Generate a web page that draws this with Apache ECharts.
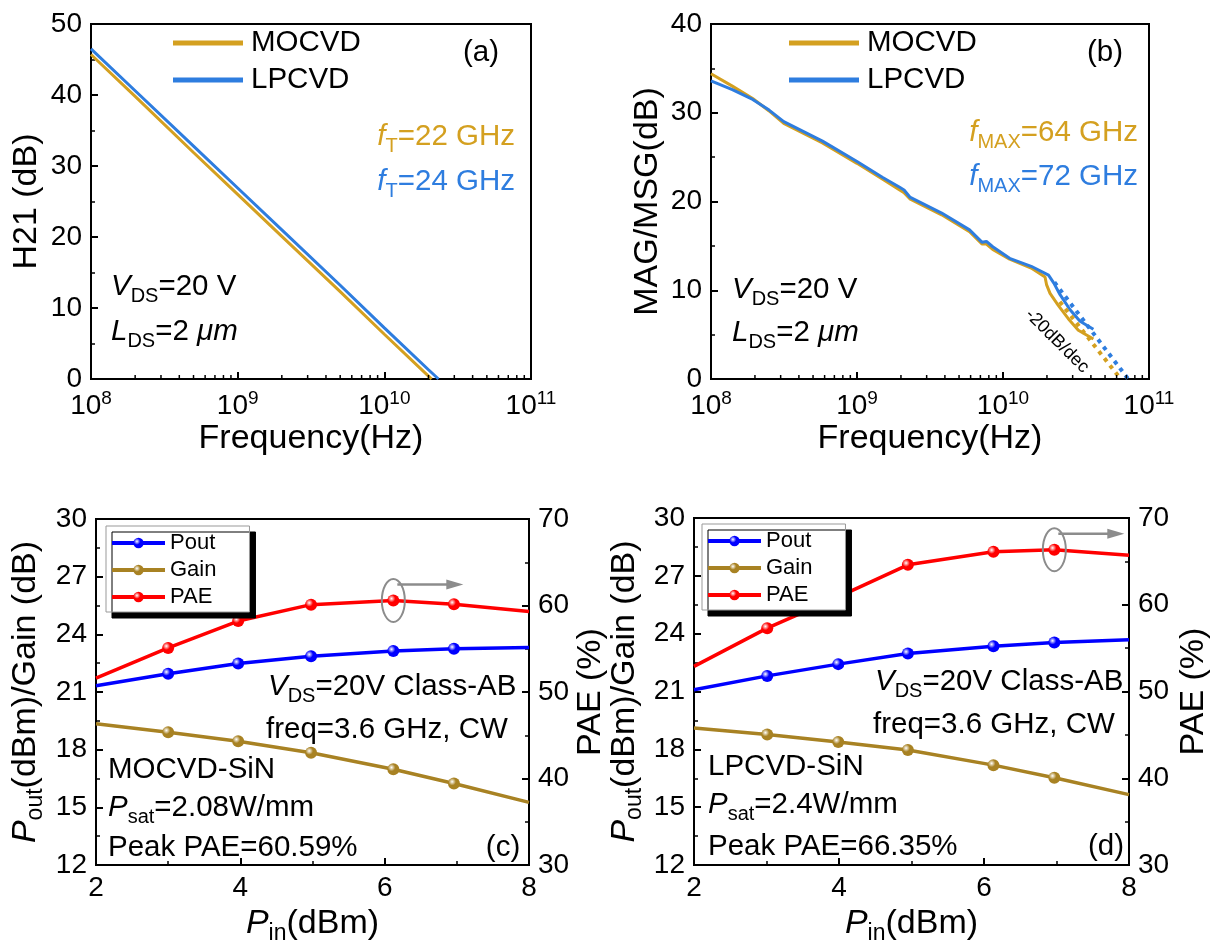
<!DOCTYPE html>
<html>
<head>
<meta charset="utf-8">
<script src="https://cdn.jsdelivr.net/npm/echarts@6/dist/echarts.min.js"></script>
<style>
  html, body { margin: 0; padding: 0; background: #fff; }
  #chart { width: 1215px; height: 946px; }
</style>
</head>
<body>
<div id="chart"></div>
<script>
// (a) H21 vs frequency
const freqH21Mocvd = [1e8, 2e8, 5e8, 1e9, 2e9, 5e9, 1e10, 2e10, 2.1e10];
const h21Mocvd = [45.7, 39.8, 31.9, 26.0, 20.1, 12.3, 6.3, 0.4, 0];
const freqH21Lpcvd = [1e8, 2e8, 5e8, 1e9, 2e9, 5e9, 1e10, 2e10, 2.34e10];
const h21Lpcvd = [46.5, 40.6, 32.8, 26.9, 21.0, 13.2, 7.2, 1.3, 0];

// (b) MAG/MSG vs frequency
const freqMagMocvd = [1e8, 1.4e8, 1.93e8, 2.5e8, 3.15e8, 5.8e8, 1e9, 1.5e9, 1.96e9, 2.1e9, 2.3e9, 3.8e9, 5.9e9, 7.2e9, 7.7e9, 8.5e9, 1.11e10, 1.56e10, 1.94e10, 1.99e10, 2.1e10, 2.39e10, 2.8e10, 3.28e10, 4.16e10];
const magMocvd = [34.4, 33.0, 31.6, 30.2, 28.8, 26.6, 24.3, 22.5, 21.3, 21.0, 20.3, 18.5, 16.6, 15.2, 15.2, 14.6, 13.5, 12.5, 11.5, 10.6, 9.65, 8.3, 6.8, 5.5, 4.5];
const freqMagLpcvd = [1e8, 1.4e8, 1.93e8, 2.5e8, 3.15e8, 5.8e8, 1e9, 1.5e9, 1.96e9, 2.1e9, 2.3e9, 3.8e9, 5.9e9, 7.2e9, 7.7e9, 8.5e9, 1.11e10, 1.56e10, 2.05e10, 2.23e10, 2.46e10, 2.88e10, 3.37e10, 4.16e10];
const magLpcvd = [33.6, 32.6, 31.5, 30.3, 29.0, 26.8, 24.5, 22.7, 21.6, 21.3, 20.5, 18.7, 16.8, 15.4, 15.5, 14.9, 13.6, 12.7, 11.7, 10.8, 9.5, 7.8, 6.5, 5.6];
// -20 dB/dec extrapolations
const fitFreqMocvd = [2.45e10, 6.4e10];
const fitMocvd = [8.7, 0];
const fitFreqLpcvd = [2.25e10, 7.2e10];
const fitLpcvd = [10.9, 0];

// (c) MOCVD-SiN power sweep
const pinC = [2, 3, 3.97, 4.98, 6.12, 6.96, 8];
const poutC = [21.33, 21.95, 22.48, 22.86, 23.13, 23.25, 23.32];
const gainC = [19.35, 18.91, 18.44, 17.84, 16.98, 16.24, 15.26];
const paeC = [51.6, 55.1, 58.2, 60.1, 60.59, 60.15, 59.3];

// (d) LPCVD-SiN power sweep
const pinD = [2, 3.01, 3.99, 4.95, 6.13, 6.97, 8];
const poutD = [21.09, 21.81, 22.42, 22.97, 23.35, 23.54, 23.69];
const gainD = [19.11, 18.77, 18.38, 17.97, 17.18, 16.53, 15.65];
const paeD = [52.9, 57.3, 60.9, 64.6, 66.1, 66.35, 65.7];

const FF = 'Liberation Sans';
const ORANGE = '#D4A020';
const BLUE = '#2E7DDF';
const POUT = '#0000FF';
const GAIN = '#A88223';
const PAE = '#FF0000';
const GREY = '#8C8C8C';
const TS = 29.5; // annotation text size

const chart = echarts.init(document.getElementById('chart'));

function zip (xs, ys) {
  return xs.map((x, i) => [x, ys[i]]);
}
// markers only on inner points, the ends sit on the frame
function pts (xs, ys) {
  return xs.map((x, i) => ({
    value: [x, ys[i]],
    symbol: (i === 0 || i === xs.length - 1) ? 'none' : 'circle'
  }));
}
function sphere (c) {
  return new echarts.graphic.RadialGradient(0.35, 0.35, 0.7, [
    { offset: 0, color: '#ffffff' },
    { offset: 0.45, color: c },
    { offset: 1, color: c }
  ]);
}

const axisLine = { show: true, onZero: false, lineStyle: { color: '#000', width: 2 } };
const axisTick = { show: true, inside: true, length: 7, lineStyle: { color: '#000', width: 2 } };
const minorTick = { show: true, splitNumber: 2, length: 4, lineStyle: { color: '#000', width: 1.5 } };
const label = { color: '#000', fontSize: 28, fontFamily: FF };
const nameStyle = { color: '#000', fontSize: 34, fontFamily: FF };

function logAxis (gridIndex) {
  return {
    type: 'log', gridIndex, min: 1e8, max: 1e11, logBase: 10,
    axisLine, axisTick, splitLine: { show: false },
    axisLabel: {
      margin: 10,
      formatter: v => '{b|10}{s|' + Math.round(Math.log10(v)) + '}',
      rich: {
        b: { fontSize: 28, fontFamily: FF, color: '#000' },
        s: { fontSize: 19, fontFamily: FF, color: '#000', padding: [0, 0, 16, 0] }
      }
    },
    name: 'Frequency(Hz)', nameLocation: 'middle', nameGap: 41, nameTextStyle: nameStyle
  };
}

function valAxis (o) {
  return Object.assign({
    type: 'value', axisLine, axisTick, minorTick, splitLine: { show: false },
    axisLabel: Object.assign({ margin: 9 }, label),
    nameLocation: 'middle', nameTextStyle: nameStyle
  }, o);
}

const subName = {
  n: { fontSize: 34, fontFamily: FF, color: '#000' },
  i: { fontSize: 34, fontFamily: FF, color: '#000', fontStyle: 'italic' },
  s: { fontSize: 23, fontFamily: FF, color: '#000', padding: [19, 0, 0, 0] }
};

function freqLine (name, xs, ys, color, xi, yi) {
  return {
    name, type: 'line', xAxisIndex: xi, yAxisIndex: yi, data: zip(xs, ys),
    showSymbol: false, color, lineStyle: { color, width: 3 }
  };
}
function fitLine (name, xs, ys, color) {
  return {
    name, type: 'line', xAxisIndex: 1, yAxisIndex: 1, data: zip(xs, ys),
    showSymbol: false, color, lineStyle: { color, width: 4, type: [4, 5] }
  };
}
function pwrLine (name, xs, ys, color, xi, yi) {
  return {
    name, type: 'line', xAxisIndex: xi, yAxisIndex: yi, data: pts(xs, ys),
    symbol: 'circle', symbolSize: 12, color,
    itemStyle: { color: sphere(color) },
    lineStyle: { color, width: 3.5 }
  };
}

const freqLegend = left => ({
  left, top: 28, orient: 'vertical', data: ['MOCVD', 'LPCVD'],
  icon: 'rect', itemWidth: 70, itemHeight: 5, itemGap: 7, padding: 0,
  selectedMode: false,
  textStyle: { fontSize: TS, lineHeight: 30, color: '#000', fontFamily: FF, padding: [0, 0, 0, 3] }
});
const pwrLegend = (left, top) => ({
  left, top, orient: 'vertical', data: ['Pout', 'Gain', 'PAE'],
  itemWidth: 53, itemHeight: 13, itemGap: 3, padding: [5, 33, 3, 4],
  selectedMode: false,
  lineStyle: { width: 4 },
  backgroundColor: '#fff', borderColor: '#999', borderWidth: 1,
  shadowColor: '#000', shadowOffsetX: 6, shadowOffsetY: 6, shadowBlur: 0,
  textStyle: { fontSize: 22, lineHeight: 24, color: '#000', fontFamily: FF }
});

const gridStyle = { show: true, borderColor: '#000', borderWidth: 2, backgroundColor: 'transparent' };
const pinName = '{i|P}{s|in}{n|(dBm)}';
const poutName = '{i|P}{s|out}{n|(dBm)/Gain (dB)}';

chart.setOption({
  animation: false,
  textStyle: { fontFamily: FF },
  grid: [
    Object.assign({ left: 91, top: 24, width: 440, height: 355 }, gridStyle),
    Object.assign({ left: 711, top: 24, width: 438, height: 355 }, gridStyle),
    Object.assign({ left: 96, top: 519, width: 433, height: 349 }, gridStyle),
    Object.assign({ left: 694, top: 518, width: 435, height: 350 }, gridStyle)
  ],
  legend: [freqLegend(173), freqLegend(789), pwrLegend(106, 526), pwrLegend(702, 524)],
  xAxis: [
    logAxis(0),
    logAxis(1),
    valAxis({ gridIndex: 2, min: 2, max: 8, interval: 2, name: pinName, nameGap: 38,
      nameTextStyle: Object.assign({ rich: subName }, nameStyle) }),
    valAxis({ gridIndex: 3, min: 2, max: 8, interval: 2, name: pinName, nameGap: 38,
      nameTextStyle: Object.assign({ rich: subName }, nameStyle) })
  ],
  yAxis: [
    valAxis({ gridIndex: 0, min: 0, max: 50, interval: 10, name: 'H21 (dB)', nameGap: 47 }),
    valAxis({ gridIndex: 1, min: 0, max: 40, interval: 10, name: 'MAG/MSG(dB)', nameGap: 46 }),
    valAxis({ gridIndex: 2, min: 12, max: 30, interval: 3, name: poutName, nameGap: 49,
      nameTextStyle: Object.assign({ rich: subName }, nameStyle) }),
    valAxis({ gridIndex: 2, position: 'right', min: 30, max: 70, interval: 10, name: 'PAE (%)', nameGap: 45 }),
    valAxis({ gridIndex: 3, min: 12, max: 30, interval: 3, name: poutName, nameGap: 48,
      nameTextStyle: Object.assign({ rich: subName }, nameStyle) }),
    valAxis({ gridIndex: 3, position: 'right', min: 30, max: 70, interval: 10, name: 'PAE (%)', nameGap: 48 })
  ],
  series: [
    freqLine('MOCVD', freqH21Mocvd, h21Mocvd, ORANGE, 0, 0),
    freqLine('LPCVD', freqH21Lpcvd, h21Lpcvd, BLUE, 0, 0),
    freqLine('MOCVD', freqMagMocvd, magMocvd, ORANGE, 1, 1),
    freqLine('LPCVD', freqMagLpcvd, magLpcvd, BLUE, 1, 1),
    fitLine('MOCVD fit', fitFreqMocvd, fitMocvd, ORANGE),
    fitLine('LPCVD fit', fitFreqLpcvd, fitLpcvd, BLUE),
    pwrLine('Pout', pinC, poutC, POUT, 2, 2),
    pwrLine('Gain', pinC, gainC, GAIN, 2, 2),
    pwrLine('PAE', pinC, paeC, PAE, 2, 3),
    pwrLine('Pout', pinD, poutD, POUT, 3, 4),
    pwrLine('Gain', pinD, gainD, GAIN, 3, 4),
    pwrLine('PAE', pinD, paeD, PAE, 3, 5)
  ]
});

// ---- annotations ----
function rich (size, color) {
  return {
    n: { fontSize: size, fontFamily: FF, fill: color, color },
    i: { fontSize: size, fontFamily: FF, fontStyle: 'italic', fill: color, color },
    s: { fontSize: Math.round(size * 0.68), fontFamily: FF, fill: color, color, padding: [18, 0, 0, 0] }
  };
}
function txt (x, y, text, align, color, size) {
  size = size || TS;
  color = color || '#000';
  return {
    type: 'text', x, y, z: 100,
    style: {
      text, textAlign: align || 'left', textVerticalAlign: 'middle',
      fontSize: size, fontFamily: FF, fill: color, rich: rich(size, color)
    }
  };
}

const g = [
  txt(481, 53, '{n|(a)}', 'center'),
  txt(515, 137, '{i|f}{s|T}{n|=22 GHz}', 'right', ORANGE),
  txt(515, 182, '{i|f}{s|T}{n|=24 GHz}', 'right', BLUE),
  txt(111, 287, '{i|V}{s|DS}{n|=20 V}', 'left'),
  txt(111, 332, '{i|L}{s|DS}{n|=2 }{i|μm}', 'left'),

  txt(1105, 53, '{n|(b)}', 'center'),
  txt(1138, 133, '{i|f}{s|MAX}{n|=64 GHz}', 'right', ORANGE),
  txt(1138, 177, '{i|f}{s|MAX}{n|=72 GHz}', 'right', BLUE),
  txt(732, 290, '{i|V}{s|DS}{n|=20 V}', 'left'),
  txt(732, 333, '{i|L}{s|DS}{n|=2 }{i|μm}', 'left'),
  {
    type: 'text', x: 1057, y: 341, rotation: -Math.PI / 4, z: 100,
    style: { text: '-20dB/dec', fontSize: 18, fontFamily: FF, fill: '#000', textAlign: 'center', textVerticalAlign: 'middle' }
  },

  txt(268, 687, '{i|V}{s|DS}{n|=20V Class-AB}', 'left'),
  txt(266, 730, '{n|freq=3.6 GHz, CW}', 'left'),
  txt(108, 770, '{n|MOCVD-SiN}', 'left'),
  txt(108, 808, '{i|P}{s|sat}{n|=2.08W/mm}', 'left'),
  txt(108, 848, '{n|Peak PAE=60.59%}', 'left'),
  txt(503, 848, '{n|(c)}', 'center'),

  txt(875, 682, '{i|V}{s|DS}{n|=20V Class-AB}', 'left'),
  txt(873, 725, '{n|freq=3.6 GHz, CW}', 'left'),
  txt(708, 767, '{n|LPCVD-SiN}', 'left'),
  txt(708, 805, '{i|P}{s|sat}{n|=2.4W/mm}', 'left'),
  txt(708, 847, '{n|Peak PAE=66.35%}', 'left'),
  txt(1106, 847, '{n|(d)}', 'center')
];

// minor ticks of the log axes (2..9 in each decade)
[0, 1].forEach(ai => {
  const yb = chart.convertToPixel({ yAxisIndex: ai }, 0);
  for (let n = 8; n <= 10; n++) {
    for (let k = 2; k <= 9; k++) {
      const px = chart.convertToPixel({ xAxisIndex: ai }, k * Math.pow(10, n));
      g.push({ type: 'line', z: 100, shape: { x1: px, y1: yb, x2: px, y2: yb - 4 }, style: { stroke: '#000', lineWidth: 1.5 } });
    }
  }
});

// peak PAE ellipse and arrow pointing to the right axis
function peakMark (xi, yi, xs, ys) {
  const k = ys.indexOf(Math.max(...ys));
  const p = chart.convertToPixel({ xAxisIndex: xi, yAxisIndex: yi }, [xs[k], ys[k]]);
  const ay = p[1] - 16;
  const tip = p[0] + 70;
  g.push(
    { type: 'ellipse', z: 101, shape: { cx: p[0], cy: p[1], rx: 11.5, ry: 21.5 }, style: { fill: 'none', stroke: GREY, lineWidth: 2 } },
    { type: 'line', z: 101, shape: { x1: p[0] + 4, y1: ay, x2: tip - 14, y2: ay }, style: { stroke: GREY, lineWidth: 2.5 } },
    { type: 'polygon', z: 101, shape: { points: [[tip, ay], [tip - 17, ay - 5], [tip - 17, ay + 5]] }, style: { fill: GREY } }
  );
}
peakMark(2, 3, pinC, paeC);
peakMark(3, 5, pinD, paeD);

chart.setOption({ graphic: g });
</script>
</body>
</html>
